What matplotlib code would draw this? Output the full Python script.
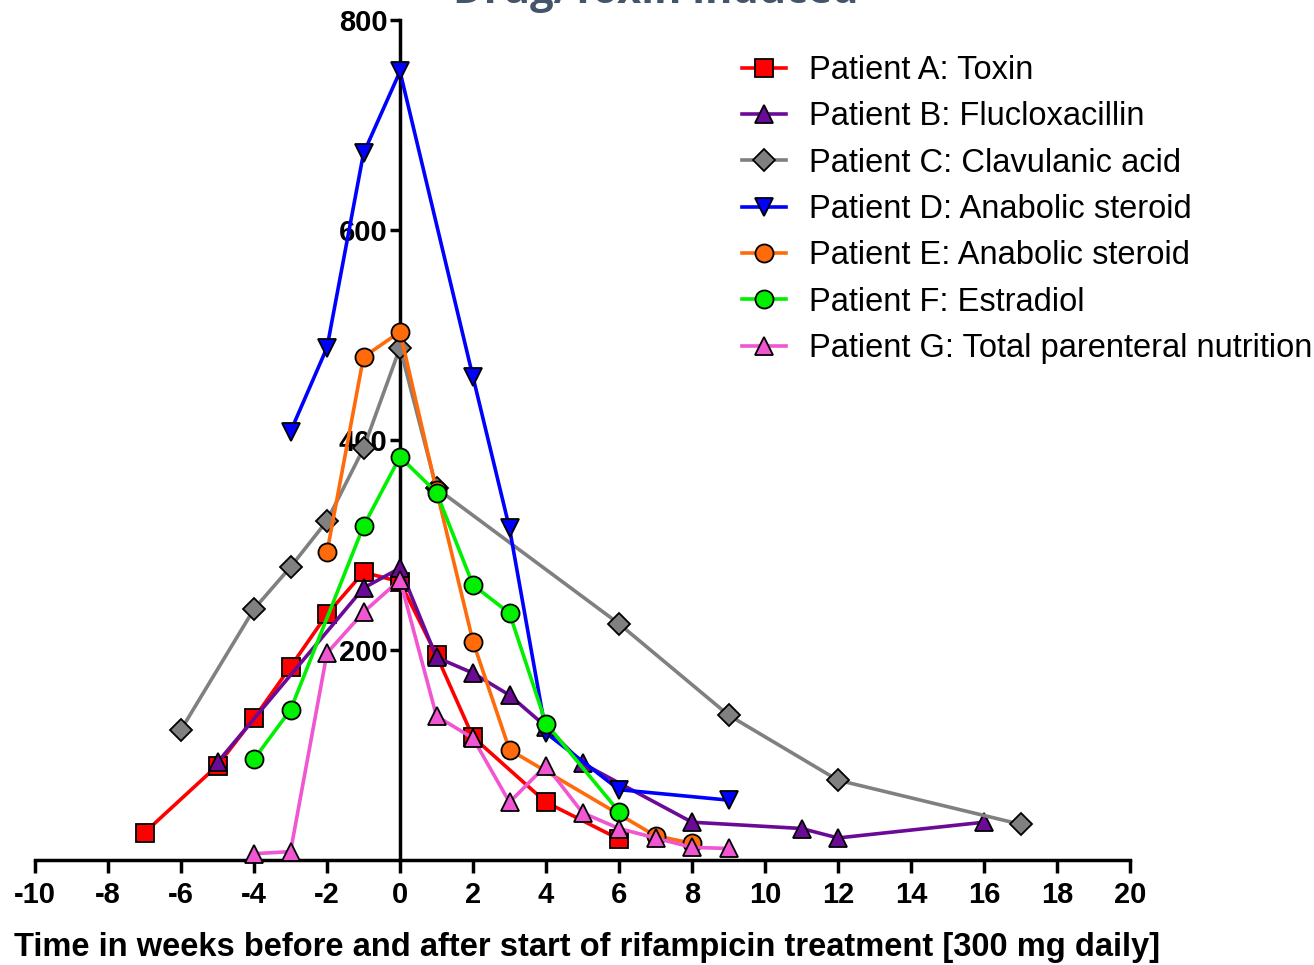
import matplotlib
matplotlib.use('Agg')
import matplotlib.pyplot as plt

# weeks relative to start of rifampicin
a_x = [-7, -5, -4, -3, -2, -1, 0, 1, 2, 4, 6]
a_y = [26, 90, 135, 184, 234, 274, 265, 195, 117, 55, 20]

b_x = [-5, -1, 0, 1, 2, 3, 4, 5, 8, 11, 12, 16]
b_y = [93, 259, 278, 193, 178, 157, 127, 92, 36, 30, 21, 36]

c_x = [-6, -4, -3, -2, -1, 0, 1, 6, 9, 12, 17]
c_y = [124, 239, 279, 323, 392, 488, 354, 225, 138, 76, 34]

d_x = [-3, -2, -1, 0, 2, 3, 4, 6, 9]
d_y = [408, 488, 673, 751, 460, 316, 121, 67, 57]

e_x = [-2, -1, 0, 1, 2, 3, 7, 8]
e_y = [293, 479, 503, 352, 208, 105, 23, 16]

f_x = [-4, -3, -1, 0, 1, 2, 3, 4, 6]
f_y = [96, 143, 318, 384, 350, 262, 235, 130, 46]

g_x = [-4, -3, -2, -1, 0, 1, 2, 3, 4, 5, 6, 7, 8, 9]
g_y = [6, 8, 197, 236, 267, 137, 116, 55, 90, 45, 30, 21, 12, 11]

labels = ['Patient A: Toxin', 'Patient B: Flucloxacillin',
          'Patient C: Clavulanic acid', 'Patient D: Anabolic steroid',
          'Patient E: Anabolic steroid', 'Patient F: Estradiol',
          'Patient G: Total parenteral nutrition']
colors = ['#FF0000', '#6C0A98', '#808080', '#0000FF', '#FF6A0A', '#00F000', '#F055D2']
markers = ['s', '^', 'D', 'v', 'o', 'o', '^']
series = [(a_x, a_y), (b_x, b_y), (c_x, c_y), (d_x, d_y),
          (e_x, e_y), (f_x, f_y), (g_x, g_y)]

x_ticks = list(range(-10, 21, 2))
y_ticks = [200, 400, 600, 800]

plt.rcParams['font.family'] = ['Liberation Sans', 'DejaVu Sans']

fig = plt.figure(figsize=(13.14, 9.65), dpi=100)
ax = fig.add_axes([35 / 1314, 105 / 965, 1095 / 1314, 840 / 965])

for (xs, ys), lab, col, mk in zip(series, labels, colors, markers):
    ms = 11.5 if mk == 'D' else 13
    ax.plot(xs, ys, color=col, lw=2.6, marker=mk, markersize=ms,
            markerfacecolor=col, markeredgecolor='black', markeredgewidth=1.3,
            label=lab, zorder=3, clip_on=False)

ax.set_xlim(-10, 20)
ax.set_ylim(0, 800)
ax.spines['left'].set_position(('data', 0))
ax.spines['top'].set_visible(False)
ax.spines['right'].set_visible(False)
for s in ('left', 'bottom'):
    ax.spines[s].set_linewidth(2.5)
    ax.spines[s].set_zorder(2)

ax.set_xticks(x_ticks)
ax.set_yticks(y_ticks)
ax.set_xticklabels([str(t) for t in x_ticks], fontsize=21, fontweight='bold')
ax.set_yticklabels([str(t) for t in y_ticks], fontsize=21, fontweight='bold')
ax.tick_params(axis='x', direction='out', length=9, width=2.5, pad=6)
ax.tick_params(axis='y', direction='out', length=7, width=2.5, pad=2)

ax.set_xlabel('Time in weeks before and after start of rifampicin treatment [300 mg daily]',
              fontsize=23.5, fontweight='bold')
ax.xaxis.set_label_coords(14 / 1314, 1 - 956 / 965, transform=fig.transFigure)
ax.xaxis.label.set_horizontalalignment('left')
ax.xaxis.label.set_verticalalignment('baseline')

ax.legend(loc='upper left', bbox_to_anchor=(742 / 1314, 1 - 55 / 965),
          bbox_transform=fig.transFigure, frameon=False, fontsize=23.5,
          borderpad=0, borderaxespad=0, handlelength=1.35, handletextpad=0.7,
          labelspacing=0.47)

fig.text(656 / 1314, 1 - 3 / 965, 'Drug/Toxin induced', ha='center', va='baseline',
         fontsize=30, fontweight='bold', color='#44546A', family=['Open Sans', 'DejaVu Sans'])

fig.savefig('out.png', dpi=100)
